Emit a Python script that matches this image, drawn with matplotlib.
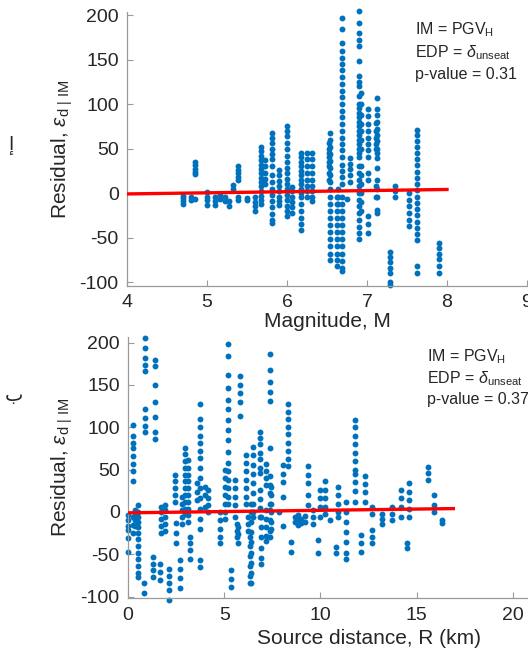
import matplotlib
matplotlib.use("Agg")
import matplotlib.pyplot as plt

plt.rcParams['font.family'] = ['Liberation Sans', 'DejaVu Sans']
plt.rcParams['mathtext.fontset'] = 'custom'
plt.rcParams['mathtext.rm'] = 'Liberation Sans'
plt.rcParams['mathtext.it'] = 'Liberation Sans:italic'
plt.rcParams['axes.unicode_minus'] = False

# --- top panel: residual vs magnitude (one column of residuals per event) ---
mag_x = [4.70, 4.80, 4.85, 5.00, 5.10, 5.16, 5.22, 5.28, 5.33, 5.39, 5.50, 5.60,
         5.68, 5.72, 5.81, 5.90, 6.00, 6.06, 6.18, 6.25, 6.31, 6.52, 6.54, 6.62,
         6.64, 6.69, 6.75, 6.79, 6.90, 6.93, 7.01, 7.11, 7.13, 7.29, 7.35, 7.52,
         7.62, 7.90]
mag_res = [
    [-3, -6, -9, -12],
    [-5, -8],
    [35, 31, 27, 24, 21, -7],
    [1, -4, -8, -13],
    [-4, -9, -13],
    [-2, -7],
    [-4, -9],
    [-9, -15],
    [9, 4],
    [30, 26, 22, 18, 15, -4, -8],
    [-6, -8],
    [-4, -10, -15, -20],
    [52, 47, 42, 37, 32, 27, 22, 17, 12, 8, 2, -3, -8, -12],
    [37, 30, 23, 16, 10],
    [67, 62, 56, 50, 44, 38, 30, 20, 12, 5, -2, -9, -16, -24, -30, -34],
    [26, 20, 14, 8, 2, -4, -9, -13],
    [75, 70, 64, 56, 49, 42, 35, 28, 22, 16, 10, 4, -2, -8, -14, -20, -26],
    [7, 2, -4, -10, -16, -22],
    [45, 40, 35, 30, 25, 20, 15, 10, 5, 0, -5, -12, -20, -28, -35, -42],
    [45, 38, 30, 22, 15, 8, 2, -5],
    [45, 38, 30, 22, 15, 8, 2, -5, -9],
    [56, 50, 45, 40, 35, 30, 22, 15],
    [67, 60, 52, 44, 36, 28, 20, 12, 4, -4, -12, -20, -28, -36, -44, -52, -60, -68, -75],
    [-4, -12, -20, -28, -36, -44, -52, -60, -68, -75, -82],
    [4, -4, -12],
    [197, 184, 169, 160, 152, 145, 138, 130, 122, 115, 108, 100, 92, 85, 78, 70,
     62, 55, 48, 40, 32, 25, 18, 10, -4, -12, -20, -28, -36, -44, -52, -60, -68,
     -76, -84, -88],
    [-7],
    [39, 33, 27, 20, 12],
    [204, 191, 180, 172, 165, 148, 131, 125, 120, 109, 100, 95, 90, 85, 80, 75, 70,
     65, 60, 55, 50, 45, 41, 30, 22, 15, 8, 0, -8, -15, -22, -30, -38, -45, -52],
    [112, 100, 88, 78, 70, 60, 50, 30, 20, 10, 0, -10, -20],
    [94, 86, 78, 70, 62, 55, 48, 40, 22, 15, -26, -35, -45],
    [79, 70, 62, 55, 49, 8, -4],
    [107, 94, 88, 80, 72, 65, 58, 50, 45, 39, 28, 15, 4, -4, -19, -22],
    [-66, -72, -78, -84, -90, -100, -103],
    [8, 2, -4],
    [0, -8, -15, -22, -30, -37],
    [71, 65, 58, 52, 45, 38, 31, 24, 17, 10, 3, -4, -11, -18, -25, -32, -39, -46,
     -53, -82, -90],
    [-56, -62, -68, -74, -82, -90],
]
mag_fit_x = [4.0, 8.0]
mag_fit_y = [-1.0, 4.0]

# --- bottom panel: residual vs source distance ---
dist_x = [0.02, 0.24, 0.36, 0.53, 0.83, 0.88, 1.31, 1.40, 1.66, 1.74, 1.92, 2.14,
          2.43, 2.52, 2.69, 2.78, 2.95, 3.13, 3.21, 3.56, 3.73, 4.00, 4.16, 4.77,
          5.03, 5.20, 5.37, 5.55, 5.65, 5.70, 5.80, 6.14, 6.23, 6.32, 6.40, 6.50,
          6.84, 6.93, 7.15, 7.36, 7.45, 7.84, 8.05, 8.30, 8.48, 8.70, 8.85, 9.00,
          9.20, 9.35, 9.60, 9.85, 9.95, 10.25, 10.50, 10.80, 10.90, 11.30, 11.80,
          12.10, 12.30, 12.70, 13.20, 13.70, 14.20, 14.50, 14.60, 15.60, 15.90,
          16.30]
dist_res = [
    [-4, -10, -16, -21, -31, -47],
    [103, 90, 82, 75, 66, 57, 48, 36, -6, -15, -25],
    [2, -4, -10, -16],
    [8, 0, -6, -12, -18, -25, -32, -40, -48, -56, -64, -72, -77],
    [-84, -96],
    [205, 194, 182, 174, 166, 121, 111, 101, 95],
    [-53, -61, -68, -77],
    [180, 172, 150, 130, 112, 95, 86],
    [-61, -71, -80],
    [6, 0, -8, -16, -25],
    [8, 2, -6, -14, -22],
    [-67, -76, -84, -92, -104],
    [44, 36, 28, 20, 12],
    [-13, -25, -37],
    [-57, -67, -78, -90],
    [18, 10, 2, -6, -14],
    [75, 68, 60, 52, 44, 36, 28, 20, 12, 4, -2],
    [61, 52, 44, 36, 28, 20, 12, 4, -4, -12],
    [-29, -37, -45, -55],
    [34, 24, 14],
    [128, 110, 100, 90, 82, 72, 64, 52, 40, 28, 16, 4, -8, -20, -57, -65],
    [30, 20, 6],
    [26, 16, 8, 0],
    [0, -10, -20, -30, -37],
    [50, 40, 30, 20, 10, 0, -8],
    [198, 184, 162, 146, 132, 121, 109, 97, 85, 71, 58, 48, 38, 28, 18, 10],
    [-69, -79, -88],
    [38, 28, 18, 8, -6],
    [-14, -22, -30],
    [-18, -26, -37],
    [160, 150, 140, 130, 113],
    [67, 58, 48, 38, 28, 18, 10],
    [-6, -14, -22],
    [-29, -40, -52, -64, -76, -84],
    [10, 0, -12, -24, -36, -48, -60, -72, -84],
    [77, 67, 56, 45, 34, 22, 10, 0, -6],
    [95, 87, 80, 70, 62, 52, 46, 26, 15, 5, -6],
    [-6, -18, -30, -42, -54, -61],
    [57, 48, 40, 32, 2, -8, -18, -28, -34],
    [186, 168, 154, 142, 131, 75, 42, 32, 22, 10, 2, -10, -22, -30],
    [30, 20, 10, 0, -12, -20],
    [0],
    [55, 45, 35, 18, -17],
    [127, 118, 110, 100, 92, 82, 72, 62, 54],
    [-35, -47],
    [-6, -12],
    [-4, -10, -15],
    [-8, -13],
    [-5, -12],
    [54, 44, 34, 20, 8],
    [2, -6, -14],
    [-33, -49],
    [26, 16, 6, -6],
    [36, 26, 16, 6, -2],
    [-9],
    [-41, -49],
    [30, 20, 10, 0, -6],
    [12, 0, -12, -24, -36, -48, -56],
    [109, 100, 90, 80, 70, 60, 50, 45, 35, 25, 12],
    [-27, -37, -47],
    [42, 33, 24, 12],
    [6, -2, -21, -30, -37],
    [-2, -8, -14],
    [6, -2, -10],
    [26, 16, 6, -6],
    [-37, -43],
    [34, 24, 14, 4, -6],
    [53, 46, 38],
    [20, 8, 0],
    [-9, -13],
]
dist_fit_x = [0.0, 16.9]
dist_fit_y = [-1.0, 4.0]

notes_top = ["IM = PGV$_\\mathrm{H}$", "EDP = $\\delta_{\\mathrm{unseat}}$", "p-value = 0.31"]
notes_bot = ["IM = PGV$_\\mathrm{H}$", "EDP = $\\delta_{\\mathrm{unseat}}$", "p-value = 0.37"]

BLUE = "#0072BD"
GREY = "#9a9a9a"
TXT = "#262626"
ylab = "Residual, $\\epsilon_{\\mathrm{d\\ |\\ IM}}$"


def panel(ax, xs, cols, fx, fy, xlim, ylim, xticks, xlabel, notes, note_x, note_y0):
    px, py = [], []
    for x, ys in zip(xs, cols):
        px += [x] * len(ys)
        py += ys
    ax.scatter(px, py, s=18, color=BLUE, linewidths=0, clip_on=False, zorder=2)
    ax.plot(fx, fy, color="red", lw=2.4, zorder=3)
    ax.set_xlim(*xlim); ax.set_ylim(*ylim)
    ax.set_xticks(xticks); ax.set_yticks([-100, -50, 0, 50, 100, 150, 200])
    for s in ("top", "right"):
        ax.spines[s].set_visible(False)
    for s in ("left", "bottom"):
        ax.spines[s].set_color(GREY); ax.spines[s].set_linewidth(0.9)
    ax.tick_params(direction="in", length=4, width=0.8, color=GREY,
                   labelsize=14, labelcolor=TXT, pad=6)
    ax.set_xlabel(xlabel, fontsize=15, color=TXT, labelpad=4)
    ax.set_ylabel(ylab, fontsize=15, color=TXT, va="center")
    for i, t in enumerate(notes):
        ax.text(note_x, note_y0 - i * 0.082, t, transform=ax.transAxes,
                fontsize=11.5, color=TXT, va="center")


fig = plt.figure(figsize=(5.28, 6.49), dpi=100)
ax1 = fig.add_axes([0.2405, 0.5599, 0.7576, 0.4211])
ax2 = fig.add_axes([0.2424, 0.0780, 0.9115, 0.4020])

panel(ax1, mag_x, mag_res, mag_fit_x, mag_fit_y, (4, 9), (-104, 203),
      [4, 5, 6, 7, 8, 9], "Magnitude, M", notes_top, 0.72, 0.935)
ax1.yaxis.set_label_coords(-0.163, 0.5)
ax1.xaxis.set_label_coords(0.5, -0.095)

panel(ax2, dist_x, dist_res, dist_fit_x, dist_fit_y, (0, 25), (-102, 206),
      [0, 5, 10, 15, 20], "Source distance, R (km)", notes_bot, 0.621, 0.925)
ax2.yaxis.set_label_coords(-0.137, 0.5)

# Arabic panel markers on the far left
fig.text(12 / 528, 1 - 145 / 649, "إ", fontsize=14, color=TXT, ha="center", va="center",
         family=["DejaVu Sans"])
fig.text(14 / 528, 1 - 395 / 649, "ب", fontsize=14, color=TXT, ha="center", va="center",
         family=["DejaVu Sans"])

fig.savefig("out.png", dpi=100)
